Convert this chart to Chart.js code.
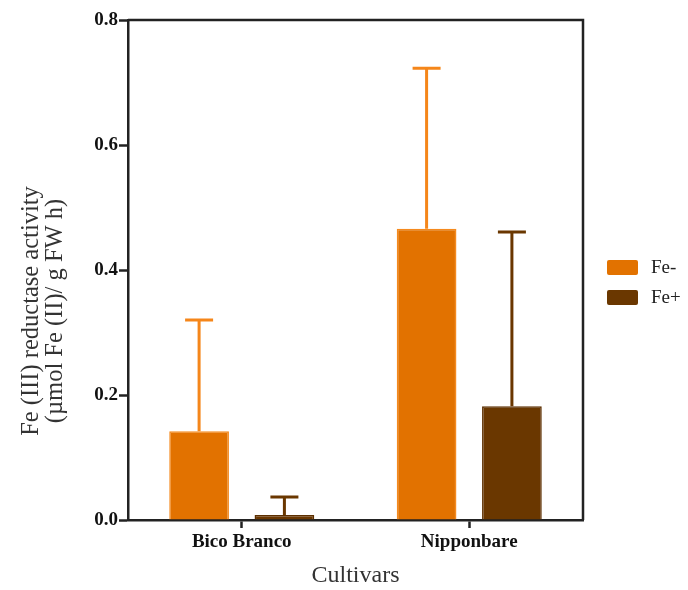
<!DOCTYPE html>
<html>
<head>
<meta charset="utf-8">
<script src="https://cdn.jsdelivr.net/npm/chart.js@4"></script>
<style>
  html, body { margin: 0; padding: 0; background: #fff; }
  #wrap { width: 688px; height: 590px; }
</style>
</head>
<body>
<div id="wrap"><canvas id="myChart" width="688" height="590"></canvas></div>
<script>
const ctx = document.getElementById("myChart");
const COLOR = ["#E27200", "#6A3700"];
const BORDER = ["#F58A1E", "#5C2F00"];
const ERR_COLOR = ["#F5861A", "#6A3700"];

const cultivars = ["Bico Branco", "Nipponbare"];
const feMinus = [0.142, 0.466];
const fePlus = [0.008, 0.182];
// upper end of each error bar
const feMinusErr = [0.32, 0.723];
const fePlusErr = [0.037, 0.461];
const yTicks = [0, 0.2, 0.4, 0.6, 0.8];
const yTitle = ["Fe (III) reductase activity", "(µmol Fe (II)/ g FW h)"];

const SERIF = "'Liberation Serif', 'Times New Roman', serif";
Chart.defaults.font.family = SERIF;

// upper error bars, the box lines (top / right), legend and y title
const extras = {
  id: "extras",
  afterDatasetsDraw(chart) {
    const c = chart.ctx;
    const y = chart.scales.y;
    const errs = [feMinusErr, fePlusErr];
    chart.data.datasets.forEach((ds, i) => {
      const meta = chart.getDatasetMeta(i);
      meta.data.forEach((bar, j) => {
        const top = y.getPixelForValue(errs[i][j]);
        c.save();
        c.strokeStyle = ERR_COLOR[i];
        c.lineWidth = 3;
        c.beginPath();
        c.moveTo(bar.x, bar.y);
        c.lineTo(bar.x, top);
        c.moveTo(bar.x - 14, top);
        c.lineTo(bar.x + 14, top);
        c.stroke();
        c.restore();
      });
    });
  },
  afterDraw(chart) {
    const c = chart.ctx;
    const a = chart.chartArea;
    c.save();
    c.strokeStyle = "#222";
    c.lineWidth = 2.5;
    c.beginPath();
    c.moveTo(a.left, a.top);
    c.lineTo(a.right, a.top);
    c.lineTo(a.right, a.bottom);
    c.stroke();

    // legend
    c.font = "19px " + SERIF;
    c.textBaseline = "middle";
    chart.data.datasets.forEach((ds, i) => {
      const ly = 260 + i * 30;
      c.fillStyle = ds.backgroundColor;
      c.beginPath();
      c.roundRect(607, ly, 31, 15, 2);
      c.fill();
      c.fillStyle = "#222";
      c.fillText(ds.label, 651, ly + 8);
    });

    // y title
    c.translate(44, 311);
    c.rotate(-Math.PI / 2);
    c.font = "24.5px " + SERIF;
    c.fillStyle = "#333";
    c.textAlign = "center";
    c.fillText(yTitle[0], 0, -12);
    c.fillText(yTitle[1], 0, 12);
    c.restore();
  },
};

new Chart(ctx, {
  type: "bar",
  data: {
    labels: cultivars,
    datasets: [
      {
        label: "Fe-",
        data: feMinus,
        backgroundColor: COLOR[0],
        borderColor: BORDER[0],
        borderWidth: 1.5,
      },
      {
        label: "Fe+",
        data: fePlus,
        backgroundColor: COLOR[1],
        borderColor: BORDER[1],
        borderWidth: 1.5,
      },
    ],
  },
  options: {
    responsive: false,
    animation: false,
    layout: { padding: { top: 20, right: 105, left: 0, bottom: 0 } },
    categoryPercentage: 0.75,
    barPercentage: 0.7,
    scales: {
      x: {
        grid: {
          display: true,
          drawOnChartArea: false,
          offset: false,
          tickLength: 8,
          tickColor: "#222",
          tickWidth: 2.5,
        },
        border: { display: true, color: "#222", width: 2.5 },
        ticks: {
          color: "#111",
          font: { size: 19, weight: "bold" },
          padding: 3,
        },
        title: {
          display: true,
          text: "Cultivars",
          color: "#333",
          font: { size: 24 },
          padding: { top: 0, bottom: 0 },
        },
        afterFit: (s) => { s.height = 70; },
      },
      y: {
        min: 0,
        max: 0.8,
        afterBuildTicks: (s) => { s.ticks = yTicks.map((v) => ({ value: v })); },
        grid: {
          display: true,
          drawOnChartArea: false,
          tickLength: 9,
          tickColor: "#222",
          tickWidth: 2.5,
        },
        border: { display: true, color: "#222", width: 2.5 },
        ticks: {
          color: "#111",
          font: { size: 19, weight: "bold" },
          padding: 1,
          callback: (v) => v.toFixed(1),
        },
        afterFit: (s) => { s.width = 128; },
      },
    },
    plugins: {
      legend: { display: false },
      tooltip: { enabled: false },
    },
  },
  plugins: [extras],
});
</script>
</body>
</html>
